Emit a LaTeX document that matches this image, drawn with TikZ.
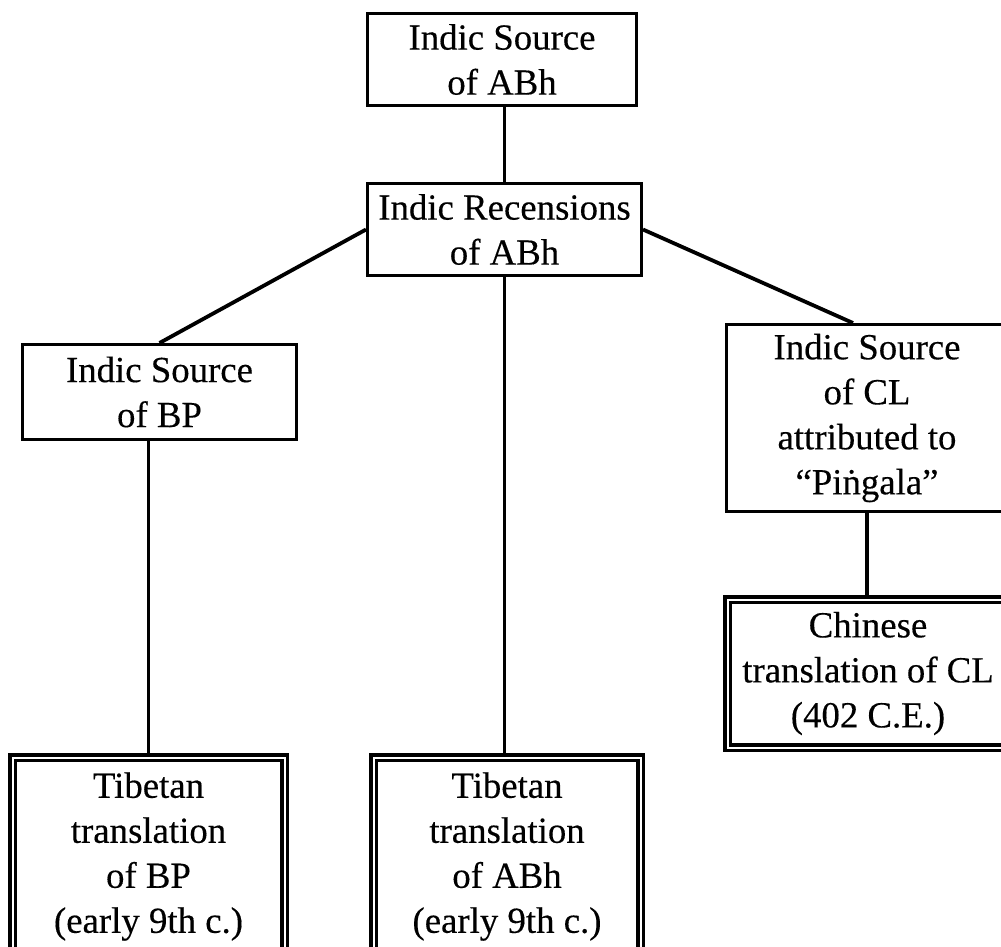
\documentclass[tikz,border=0pt]{standalone}
\usepackage{fontspec}
\setmainfont{Liberation Serif}[FakeBold=0.3]
\begin{document}
\begin{tikzpicture}[x=1pt,y=-1pt,
  txt/.style={align=center, inner sep=0pt, font=\fontsize{36.8}{45}\selectfont},
  box/.style={txt, draw, line width=3pt},
  dbox/.style={txt, draw, double, double distance=2pt, line width=3.5pt},
  link/.style={line width=3.8pt}]
\useasboundingbox (0,0) rectangle (1001,946);
\clip (0,0) rectangle (1001,946);
\fill[white] (0,0) rectangle (1001,946);

\node[box, minimum width=269pt, minimum height=92pt] (src) at (502,59.5)
  {Indic Source\\of ABh};
\node[box, minimum width=274pt, minimum height=92pt] (rec) at (504.5,229.5)
  {Indic Recensions\\of ABh};
\node[box, minimum width=274pt, minimum height=95pt] (bp) at (159.5,392)
  {Indic Source\\of BP};
\node[box, minimum width=281pt, minimum height=187pt] (cl) at (867,418)
  {Indic Source\\of CL\\attributed to\\“Piṅgala”};
\node[dbox, minimum width=281pt, minimum height=148pt] (chi) at (868,673.5)
  {Chinese\\translation of CL\\(402 C.E.)};
\node[dbox, minimum width=272pt, minimum height=198pt] (tbp) at (148.5,856.5)
  {Tibetan\\translation\\of BP\\(early 9th c.)};
\node[dbox, minimum width=267pt, minimum height=198pt] (tab) at (507,856.5)
  {Tibetan\\translation\\of ABh\\(early 9th c.)};

\draw[link] (src.south -| rec.north) -- (rec.north);
\draw[link] (rec.west) -- (bp.north);
\draw[link] (rec.east) -- ([xshift=128pt]cl.north west);
\draw[link] (bp.south -| tbp.north) -- (tbp.north);
\draw[link] (rec.south) -- (rec.south |- tab.north);
\draw[link] (cl.south) -- (cl.south |- chi.north);
\end{tikzpicture}
\end{document}
